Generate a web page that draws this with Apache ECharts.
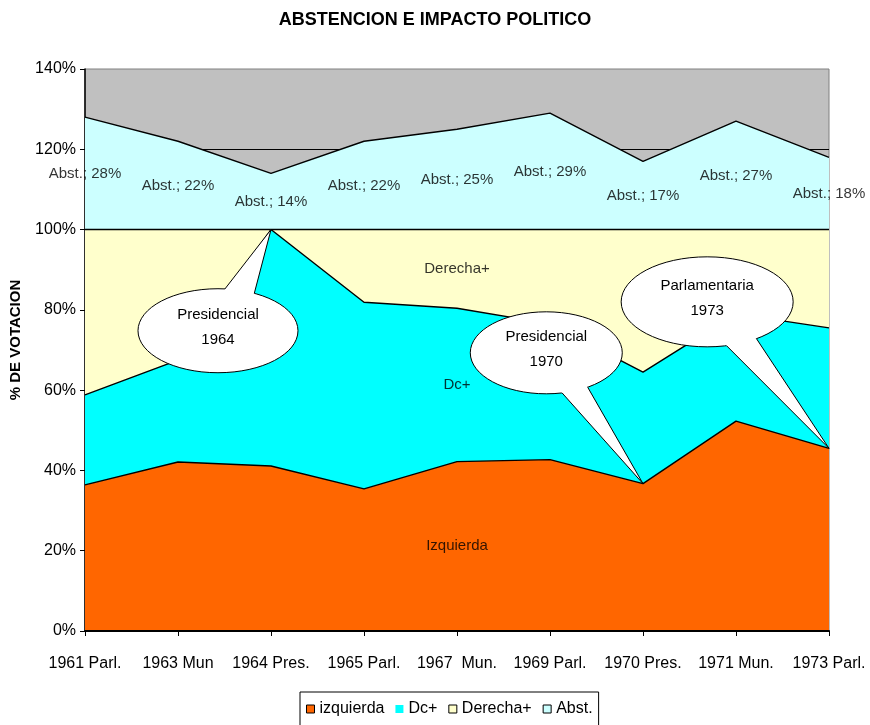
<!DOCTYPE html>
<html>
<head>
<meta charset="utf-8">
<script src="https://cdn.jsdelivr.net/npm/echarts@6/dist/echarts.min.js"></script>
<style>
  html, body { margin: 0; padding: 0; background: #fff; }
  #chart { width: 870px; height: 725px; }
</style>
</head>
<body>
<div id="chart"></div>
<script>
// Elections, 1961-1973: share of the vote by bloc, with abstention stacked above 100%
const categories = ['1961 Parl.', '1963 Mun', '1964 Pres.', '1965 Parl.', '1967  Mun.', '1969 Parl.', '1970 Pres.', '1971 Mun.', '1973 Parl.'];
const izquierda  = [36.4, 42.1, 41.1, 35.4, 42.2, 42.7, 36.7, 52.3, 45.5];
const dcMas      = [22.4, 25.4, 58.9, 46.5, 38.2, 33.8, 27.8, 26.7, 30.0];
const derechaMas = [41.2, 32.5, 0.0, 18.1, 19.6, 23.5, 35.5, 21.0, 24.5];
const abstencion = [28, 22, 14, 22, 25, 29, 17, 27, 18];
const yTicks = [0, 20, 40, 60, 80, 100, 120, 140];

// Series names as shown in the legend and inside the bands
const legendNames = ['izquierda', 'Dc+', 'Derecha+', 'Abst.'];
const bandNames = ['Izquierda', 'Dc+', 'Derecha+'];
const bandLabelIndex = 4;

// Callout balloons: text, election they point at, and the band edge they touch
const callouts = [
  { text: 'Presidencial\n1964', target: 2, edge: 'dc', at: [1.43, 74.8], rx: 80, ry: 42, a1: -85, a2: -63 },
  { text: 'Presidencial\n1970', target: 6, edge: 'izq', at: [4.96, 69.3], rx: 76, ry: 41, a1: 78, a2: 57 },
  { text: 'Parlamentaria\n1973', target: 8, edge: 'izq', at: [6.69, 82.0], rx: 86, ry: 45, a1: 77, a2: 55 }
];

const FONT = '"Liberation Sans", Arial, Helvetica, sans-serif';
const colors = { izq: '#FF6600', dc: '#00FFFF', der: '#FFFFCC', abst: '#CCFFFF' };

const chart = echarts.init(document.getElementById('chart'), null, { renderer: 'canvas' });

function areaSeries(name, data, color) {
  return {
    name: name,
    type: 'line',
    stack: 'votos',
    data: data,
    symbol: 'none',
    smooth: false,
    lineStyle: { color: '#000', width: 1.4 },
    itemStyle: { color: color },
    areaStyle: { color: color, opacity: 1 },
    emphasis: { disabled: true },
    z: 2
  };
}

// Label anchors sit at the middle of each band
const abstLabelPoints = abstencion.map((v, i) => [i, 100 + v / 2]);
const bandBase = [0, izquierda[bandLabelIndex], izquierda[bandLabelIndex] + dcMas[bandLabelIndex]];
const bandSize = [izquierda[bandLabelIndex], dcMas[bandLabelIndex], derechaMas[bandLabelIndex]];
const bandLabelPoints = bandNames.map((n, k) => ({
  value: [bandLabelIndex, bandBase[k] + bandSize[k] / 2],
  label: { formatter: n }
}));

const option = {
  animation: false,
  textStyle: { fontFamily: FONT },
  title: {
    text: 'ABSTENCION E IMPACTO POLITICO',
    left: 'center',
    top: 6,
    textStyle: { fontFamily: FONT, fontSize: 18, fontWeight: 'bold', color: '#000' }
  },
  grid: {
    left: 85, right: 41, top: 69, bottom: 94,
    show: true, backgroundColor: '#C0C0C0', borderColor: '#808080', borderWidth: 1
  },
  legend: {
    left: 300,
    top: 692,
    padding: [9, 6, 14, 6],
    itemGap: 11,
    itemWidth: 8,
    itemHeight: 8,
    icon: 'rect',
    borderColor: '#000',
    borderWidth: 1,
    backgroundColor: '#fff',
    borderRadius: 0,
    selectedMode: false,
    textStyle: { fontFamily: FONT, fontSize: 16, color: '#000' },
    data: [
      { name: legendNames[0], itemStyle: { color: colors.izq, borderColor: '#000', borderWidth: 1 } },
      { name: legendNames[1], itemStyle: { color: colors.dc, borderWidth: 0 } },
      { name: legendNames[2], itemStyle: { color: colors.der, borderColor: '#000', borderWidth: 1 } },
      { name: legendNames[3], itemStyle: { color: colors.abst, borderColor: '#000', borderWidth: 1 } }
    ]
  },
  xAxis: {
    type: 'category',
    data: categories,
    boundaryGap: false,
    axisLine: { show: true, lineStyle: { color: '#000', width: 2 } },
    axisTick: { show: true, length: 5, lineStyle: { color: '#000', width: 1 } },
    axisLabel: { color: '#000', fontFamily: FONT, fontSize: 16, margin: 25, interval: 0 },
    splitLine: { show: false },
    z: 5
  },
  yAxis: {
    type: 'value',
    min: yTicks[0],
    max: yTicks[yTicks.length - 1],
    interval: yTicks[1] - yTicks[0],
    name: '% DE VOTACION',
    nameLocation: 'middle',
    nameGap: 62,
    nameRotate: 90,
    nameTextStyle: { fontFamily: FONT, fontSize: 15, fontWeight: 'bold', color: '#000', padding: [0, 0, 0, 20] },
    axisLine: { show: true, lineStyle: { color: '#000', width: 1.5 } },
    axisTick: { show: true, length: 5, lineStyle: { color: '#000' } },
    axisLabel: { color: '#000', fontFamily: FONT, fontSize: 16, margin: 9, formatter: '{value}%' },
    // the top edge keeps the grey frame line instead of a black gridline
    splitLine: { show: true, showMaxLine: false, lineStyle: { color: '#000', width: 1 } }
  },
  series: [
    areaSeries(legendNames[0], izquierda, colors.izq),
    areaSeries(legendNames[1], dcMas, colors.dc),
    areaSeries(legendNames[2], derechaMas, colors.der),
    areaSeries(legendNames[3], abstencion, colors.abst),
    {
      name: 'abstLabels',
      type: 'scatter',
      data: abstLabelPoints,
      symbolSize: 0,
      silent: true,
      z: 6,
      label: {
        show: true,
        position: 'inside',
        color: '#000',
        fontFamily: FONT,
        fontSize: 15,
        formatter: p => 'Abst.; ' + abstencion[p.dataIndex] + '%'
      }
    },
    {
      name: 'bandLabels',
      type: 'scatter',
      data: bandLabelPoints,
      symbolSize: 0,
      silent: true,
      z: 6,
      label: { show: true, position: 'inside', color: '#000', fontFamily: FONT, fontSize: 15 }
    }
  ]
};

chart.setOption(option);

// Balloon callouts, placed in data space and converted to pixels
function toPx(idx, val) {
  const p0 = chart.convertToPixel({ xAxisIndex: 0, yAxisIndex: 0 }, [0, val]);
  const p1 = chart.convertToPixel({ xAxisIndex: 0, yAxisIndex: 0 }, [1, val]);
  return [p0[0] + idx * (p1[0] - p0[0]), p0[1]];
}

const graphics = [];
callouts.forEach(c => {
  const edgeVal = c.edge === 'dc'
    ? izquierda[c.target] + dcMas[c.target]
    : izquierda[c.target];
  const tip = toPx(c.target, edgeVal);
  const ctr = toPx(c.at[0], c.at[1]);
  const onEllipse = deg => {
    const t = deg * Math.PI / 180;
    return [ctr[0] + c.rx * Math.cos(t), ctr[1] + c.ry * Math.sin(t)];
  };
  const b1 = onEllipse(c.a1);
  const b2 = onEllipse(c.a2);
  const inner1 = [ctr[0] + (b1[0] - ctr[0]) * 0.85, ctr[1] + (b1[1] - ctr[1]) * 0.85];
  const inner2 = [ctr[0] + (b2[0] - ctr[0]) * 0.85, ctr[1] + (b2[1] - ctr[1]) * 0.85];
  graphics.push({
    type: 'ellipse', z: 20, silent: true,
    shape: { cx: ctr[0], cy: ctr[1], rx: c.rx, ry: c.ry },
    style: { fill: '#fff', stroke: '#000', lineWidth: 1 }
  });
  graphics.push({
    type: 'polygon', z: 21, silent: true,
    shape: { points: [b1, tip, b2, inner2, inner1] },
    style: { fill: '#fff', stroke: null }
  });
  graphics.push({
    type: 'polyline', z: 22, silent: true,
    shape: { points: [b1, tip, b2] },
    style: { stroke: '#000', lineWidth: 1, fill: null }
  });
  graphics.push({
    type: 'text', z: 23, silent: true,
    x: ctr[0], y: ctr[1] - 3,
    style: {
      text: c.text, align: 'center', verticalAlign: 'middle',
      font: '15px ' + FONT, fill: '#000', lineHeight: 25
    }
  });
});

chart.setOption({ graphic: graphics });
</script>
</body>
</html>
